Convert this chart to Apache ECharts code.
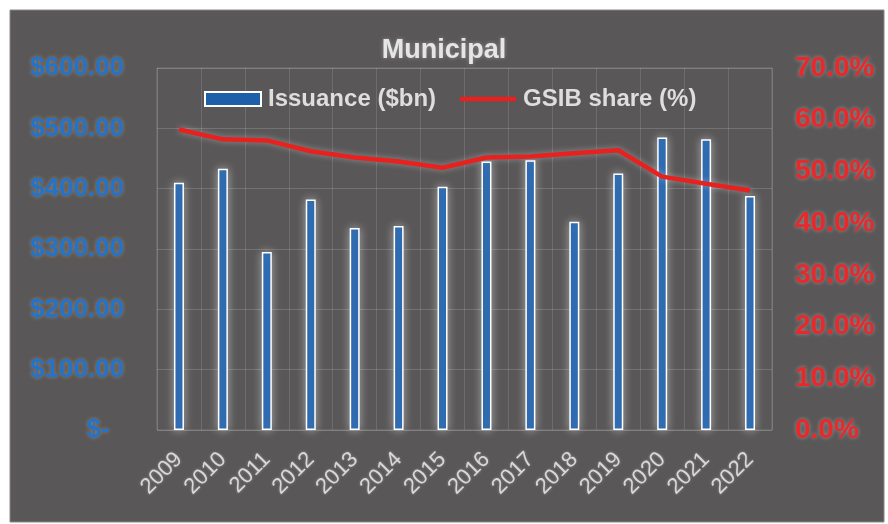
<!DOCTYPE html>
<html lang="en">
<head>
  <meta charset="UTF-8">
  <title>Municipal</title>
  <style>
  html, body {
    margin: 0;
    padding: 0;
    background: #fff;
  }
  #main {
    width: 888px;
    height: 524px;
  }
  </style>
</head>
<body>
<div id="main"></div>
<script src="https://cdn.jsdelivr.net/npm/echarts@6/dist/echarts.min.js"></script>
<script>
  var years = ['2009', '2010', '2011', '2012', '2013', '2014', '2015',
    '2016', '2017', '2018', '2019', '2020', '2021', '2022'];
  // issuance, $bn
  var issuance = [410, 433, 295, 382, 335, 338, 403, 445, 447, 345, 425, 485, 482, 388];
  // GSIB share, %
  var gsibShare = [58.1, 56.2, 56.0, 53.9, 52.7, 51.9, 50.7, 52.7, 52.9, 53.5, 54.1, 49.0, 47.6, 46.3];

  var glow = 'rgba(255,255,255,0.35)';

  var chart = echarts.init(document.getElementById('main'));

  var option = {
    backgroundColor: '#fff',
    textStyle: { fontFamily: 'Liberation Sans, Arial, sans-serif' },
    graphic: [{
      type: 'rect',
      z: -10,
      silent: true,
      shape: { x: 10, y: 10, width: 874, height: 512 },
      style: { fill: '#595757', stroke: '#8a8888', lineWidth: 1 }
    }],
    title: {
      text: 'Municipal',
      left: 'center',
      top: 32,
      textStyle: {
        color: '#e6e6e6',
        fontSize: 27,
        fontWeight: 'bold',
        textShadowColor: glow,
        textShadowBlur: 4
      }
    },
    legend: {
      left: 199,
      top: 82,
      itemWidth: 56,
      itemHeight: 14,
      itemGap: 24,
      textStyle: {
        color: '#dedede',
        fontSize: 24,
        fontWeight: 'bold',
        padding: [0, 0, 0, 2]
      },
      data: [
        { name: 'Issuance ($bn)', icon: 'rect' },
        { name: 'GSIB share (%)', icon: 'path://M0,0 L58,0 L58,4.5 L0,4.5 Z' }
      ]
    },
    grid: {
      left: 157,
      right: 116,
      top: 68,
      bottom: 94,
      show: true,
      borderColor: 'rgba(255,255,255,0.18)',
      borderWidth: 1
    },
    xAxis: {
      type: 'category',
      data: years,
      axisLine: { show: false },
      axisTick: { show: false },
      splitLine: { show: true, lineStyle: { color: 'rgba(255,255,255,0.13)' } },
      axisLabel: {
        color: '#d8d8d8',
        fontSize: 22,
        rotate: 45,
        margin: 26,
        interval: 0,
        textShadowColor: glow,
        textShadowBlur: 3
      }
    },
    yAxis: [{
      type: 'value',
      min: 0,
      max: 600,
      interval: 100,
      axisLine: { show: false },
      axisTick: { show: false },
      splitLine: { lineStyle: { color: 'rgba(255,255,255,0.16)' } },
      axisLabel: {
        color: '#2373c8',
        fontSize: 26,
        fontWeight: 'bold',
        margin: 33,
        textShadowColor: 'rgba(255,200,150,0.35)',
        textShadowBlur: 4,
        formatter: function(v) {
          return v === 0 ? '$-  ' : '$' + v.toFixed(2);
        }
      }
    }, {
      type: 'value',
      min: 0,
      max: 70,
      interval: 10,
      axisLine: { show: false },
      axisTick: { show: false },
      splitLine: { show: false },
      axisLabel: {
        color: '#e8282a',
        fontSize: 28,
        fontWeight: 'bold',
        margin: 23,
        textShadowColor: glow,
        textShadowBlur: 4,
        formatter: function(v) {
          return v.toFixed(1) + '%';
        }
      }
    }],
    series: [{
      name: 'Issuance ($bn)',
      type: 'bar',
      data: issuance,
      barWidth: 10,
      itemStyle: {
        color: '#1e5faa',
        borderColor: '#ffffff',
        borderWidth: 1.5,
        shadowColor: 'rgba(255,255,255,0.45)',
        shadowBlur: 10
      }
    }, {
      name: 'GSIB share (%)',
      type: 'line',
      yAxisIndex: 1,
      data: gsibShare,
      showSymbol: false,
      symbol: 'none',
      color: '#e8201e',
      lineStyle: {
        color: '#e8201e',
        width: 4.5,
        join: 'round',
        shadowColor: 'rgba(255,255,255,0.35)',
        shadowBlur: 6
      }
    }]
  };

  chart.setOption(option);
</script>
</body>
</html>
